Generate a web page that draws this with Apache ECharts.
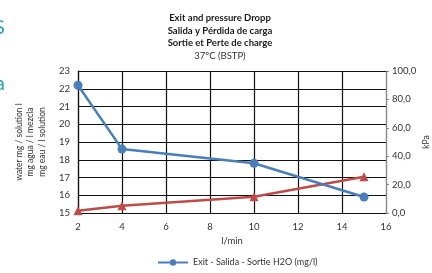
<!DOCTYPE html>
<html>
<head>
<meta charset="utf-8">
<script src="https://cdn.jsdelivr.net/npm/echarts@6/dist/echarts.min.js"></script>
<style>
  html, body { margin: 0; padding: 0; background: #fff; }
  #chart { width: 432px; height: 273px; }
</style>
</head>
<body>
<div id="chart"></div>
<script>
// flow (l/min)
const flow = [2, 4, 10, 15];
// exit water, mg/l (left axis)
const exitWater = [22.2, 18.6, 17.8, 15.9];
// pressure drop, kPa (right axis)
const pressureDrop = [1.6, 5.1, 11.5, 25.6];

const titleLines = [
  "Exit and pressure Dropp",
  "Salida y Pérdida de carga",
  "Sortie et Perte de charge"
];
const subTitle = "37ºC (BSTP)";
const leftAxisName = "water mg / solution l\nmg agua / l mezcla\nmg eau / l solution";
const legendName = "Exit - Salida - Sortie H2O (mg/l)";

const font = "Lato, 'Open Sans', sans-serif";
const blue = "#4a7ebb";
const red = "#be4b48";

let chart = echarts.init(document.getElementById("chart"));
let option = {
  animation: false,
  textStyle: { fontFamily: font },
  title: {
    text: titleLines.join("\n") + "\n{n|" + subTitle + "}",
    left: 215,
    textAlign: "center",
    top: 7,
    textStyle: {
      fontFamily: font,
      fontSize: 9.5,
      fontWeight: "bold",
      color: "#1a1a1a",
      lineHeight: 12.5,
      rich: { n: { fontFamily: font, fontSize: 9.5, fontWeight: "normal", color: "#333" } }
    }
  },
  graphic: [
    { type: "text", left: -6, top: 18, style: { text: "S", fontSize: 20, fill: "#2aa3b3", fontFamily: font } },
    { type: "text", left: -5, top: 74, style: { text: "a", fontSize: 20, fill: "#2aa3b3", fontFamily: font } }
  ],
  legend: {
    data: [legendName],
    bottom: 1,
    left: 152,
    itemWidth: 30,
    itemHeight: 8,
    itemGap: 4,
    textStyle: { fontSize: 9, color: "#333", fontFamily: font }
  },
  grid: { left: 78, right: 46, top: 71, bottom: 60, outerBoundsMode: "none" },
  xAxis: {
    type: "value",
    min: 2,
    max: 16,
    interval: 2,
    name: "l/min",
    nameLocation: "middle",
    nameGap: 23,
    nameMoveOverlap: false,
    nameTextStyle: { fontSize: 9.5, color: "#333" },
    axisLine: { lineStyle: { color: "#111", width: 1.2 } },
    axisTick: { show: false },
    axisLabel: { fontSize: 9.5, color: "#333", margin: 9 },
    splitLine: { show: true, lineStyle: { color: "#111", width: 1.2 } }
  },
  yAxis: [
    {
      type: "value",
      min: 15,
      max: 23,
      interval: 1,
      name: leftAxisName,
      nameLocation: "middle",
      nameRotate: 90,
      nameGap: 30,
      nameMoveOverlap: false,
      nameTextStyle: { fontSize: 8.5, color: "#333", lineHeight: 11.5 },
      axisLine: { show: true, lineStyle: { color: "#111", width: 1.2 } },
      axisTick: { show: false },
      axisLabel: { fontSize: 9.5, color: "#333", margin: 8 },
      splitLine: { show: true, lineStyle: { color: "#111", width: 1.2 } }
    },
    {
      type: "value",
      min: 0,
      max: 100,
      interval: 20,
      position: "right",
      name: "kPa",
      nameLocation: "middle",
      nameRotate: 90,
      nameGap: 36,
      nameMoveOverlap: false,
      nameTextStyle: { fontSize: 8.5, color: "#333" },
      axisLine: { show: true, lineStyle: { color: "#888" } },
      axisTick: { show: true, length: 3, lineStyle: { color: "#888" } },
      axisLabel: {
        fontSize: 9.5,
        color: "#333",
        margin: 6,
        formatter: (v) => v.toFixed(1).replace(".", ",")
      },
      splitLine: { show: false }
    }
  ],
  series: [
    {
      name: legendName,
      type: "line",
      yAxisIndex: 0,
      data: flow.map((x, i) => [x, exitWater[i]]),
      symbol: "circle",
      symbolSize: 9,
      lineStyle: { color: blue, width: 2.5 },
      itemStyle: { color: blue },
      z: 3
    },
    {
      name: "pressure",
      type: "line",
      yAxisIndex: 1,
      data: flow.map((x, i) => [x, pressureDrop[i]]),
      symbol: "triangle",
      symbolSize: 9,
      lineStyle: { color: red, width: 2.5 },
      itemStyle: { color: red },
      z: 2
    }
  ]
};
option && chart.setOption(option);
</script>
</body>
</html>
